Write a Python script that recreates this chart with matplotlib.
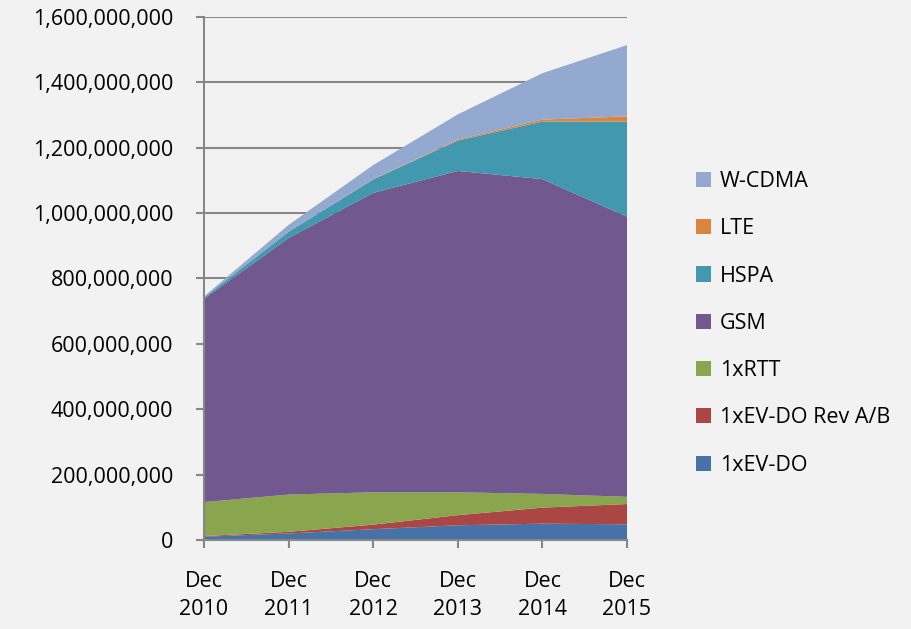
import matplotlib
matplotlib.use("Agg")
import matplotlib.pyplot as plt
from matplotlib.patches import Patch
from matplotlib.ticker import FuncFormatter
import numpy as np

years = ["Dec\n2010", "Dec\n2011", "Dec\n2012", "Dec\n2013", "Dec\n2014", "Dec\n2015"]

# subscriptions, millions
ev_do = [10, 20, 33, 45, 50, 48]
ev_do_ab = [2, 5, 14, 31, 49, 62]
rtt = [104, 114, 99, 70, 42, 22]
gsm = [622, 785, 916, 983, 963, 857]
hspa = [4, 19, 41, 93, 176, 291]
lte = [0, 0, 1, 3, 6, 16]
wcdma = [3, 21, 43, 77, 142, 218]

names = ["1xEV-DO", "1xEV-DO Rev A/B", "1xRTT", "GSM", "HSPA", "LTE", "W-CDMA"]
colors = ["#4572A7", "#AA4643", "#89A54E", "#71588F", "#4198AF", "#DB843D", "#93A9CF"]

series = np.array([ev_do, ev_do_ab, rtt, gsm, hspa, lte, wcdma]) * 1e6
x = np.arange(len(years))

plt.rcParams['font.family'] = ['Open Sans', 'DejaVu Sans']

fig = plt.figure(figsize=(9.12, 6.29), dpi=100, facecolor="#F2F2F2")
ax = fig.add_axes([0.2237, 0.1415, 0.4638, 0.8315])
ax.set_facecolor("#F2F2F2")

ax.stackplot(x, series, colors=colors, linewidth=0)

ax.set_xlim(0, len(years) - 1)
ax.set_ylim(0, 1.6e9)
ax.set_yticks(np.arange(0, 1.6e9 + 1, 2e8))
ax.yaxis.set_major_formatter(FuncFormatter(lambda v, p: f"{int(v):,}"))
ax.set_xticks(x)
ax.set_xticklabels(years, linespacing=1.45)
ax.grid(axis="y", color="#878787", linewidth=1.5)
ax.set_axisbelow(True)

for s in ["top", "right"]:
    ax.spines[s].set_visible(False)
for s in ["left", "bottom"]:
    ax.spines[s].set_color("#878787")
    ax.spines[s].set_linewidth(1.5)
ax.tick_params(axis="both", colors="#878787", width=1.5, length=6, labelsize=15.5,
               labelcolor="black")
ax.tick_params(axis="x", pad=16)
ax.tick_params(axis="y", pad=16)

handles = [Patch(facecolor=c, label=n) for c, n in zip(colors, names)][::-1]
fig.legend(handles=handles, loc="center left", bbox_to_anchor=(0.742, 0.486),
           frameon=False, fontsize=15.5, handlelength=0.7, handleheight=0.7,
           labelspacing=1.22, handletextpad=0.4)

fig.savefig("out.png", dpi=100, facecolor=fig.get_facecolor())
